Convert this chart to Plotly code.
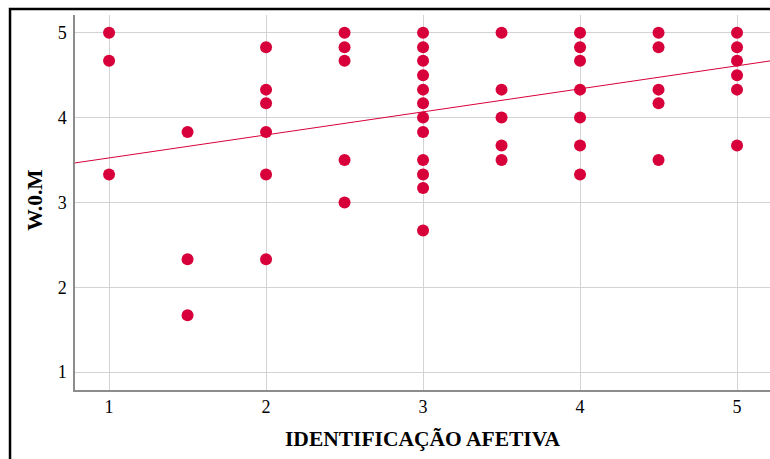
import plotly.graph_objects as go

# Scores per respondent: affective identification (x) vs W.0.M (y)
ident_afetiva = (
    [1, 1, 1]
    + [1.5, 1.5, 1.5]
    + [2, 2, 2, 2, 2, 2]
    + [2.5, 2.5, 2.5, 2.5, 2.5]
    + [3] * 12
    + [3.5] * 5
    + [4] * 7
    + [4.5] * 5
    + [5] * 6
)
w0m = (
    [5.0, 4.67, 3.33]
    + [3.83, 2.33, 1.67]
    + [4.83, 4.33, 4.17, 3.83, 3.33, 2.33]
    + [5.0, 4.83, 4.67, 3.5, 3.0]
    + [5.0, 4.83, 4.67, 4.5, 4.33, 4.17, 4.0, 3.83, 3.5, 3.33, 3.17, 2.67]
    + [5.0, 4.33, 4.0, 3.67, 3.5]
    + [5.0, 4.83, 4.67, 4.33, 4.0, 3.67, 3.33]
    + [5.0, 4.83, 4.33, 4.17, 3.5]
    + [5.0, 4.83, 4.67, 4.5, 4.33, 3.67]
)

# Linear fit line (intercept, slope)
fit_intercept = 3.253
fit_slope = 0.2716

x_ticks = [1, 2, 3, 4, 5]
y_ticks = [1, 2, 3, 4, 5]
x_range = [0.783, 5.21]
y_range = [0.788, 5.21]

red = "#d7003a"
serif = "'Liberation Serif', 'Times New Roman', serif"

fig = go.Figure()
fig.add_trace(go.Scatter(
    x=ident_afetiva, y=w0m, mode="markers",
    marker=dict(size=12, color=red, line=dict(width=0)),
    showlegend=False, cliponaxis=False,
))
fig.add_trace(go.Scatter(
    x=x_range, y=[fit_intercept + fit_slope * v for v in x_range],
    mode="lines", line=dict(color=red, width=1),
    showlegend=False,
))

tick_font = dict(family=serif, size=18, color="black")

fig.update_layout(
    width=770, height=459,
    margin=dict(l=75, r=0, t=15, b=69),
    paper_bgcolor="white", plot_bgcolor="white",
    font=dict(family=serif, size=18, color="black"),
    xaxis=dict(
        range=x_range, tickvals=x_ticks, showgrid=True,
        gridcolor="#d3d3d3", gridwidth=1, zeroline=False,
        showline=True, linecolor="#8c8c8c", linewidth=1.5,
        ticks="", ticklen=0, tickfont=tick_font,
    ),
    yaxis=dict(
        range=y_range, tickvals=y_ticks, showgrid=True,
        gridcolor="#d3d3d3", gridwidth=1, zeroline=False,
        showline=True, linecolor="#8c8c8c", linewidth=1.5,
        ticks="", ticklen=0, tickfont=tick_font, ticklabelstandoff=3,
    ),
    annotations=[
        dict(text="<b>IDENTIFICAÇÃO AFETIVA</b>", xref="paper", yref="paper",
             x=0.5, y=-0.131, xanchor="center", yanchor="middle",
             showarrow=False, font=dict(size=21.5, family=serif)),
        dict(text="<b>W.0.M</b>", xref="paper", yref="paper",
             x=-0.0575, y=0.505, xanchor="center", yanchor="middle",
             textangle=-90, showarrow=False, font=dict(size=21.5, family=serif)),
    ],
    shapes=[
        dict(type="rect", xref="paper", yref="paper",
             x0=-0.0935, x1=1.2, y0=-0.4, y1=1.016,
             line=dict(color="black", width=2.5), layer="above"),
    ],
)

fig.write_html("out.html")
